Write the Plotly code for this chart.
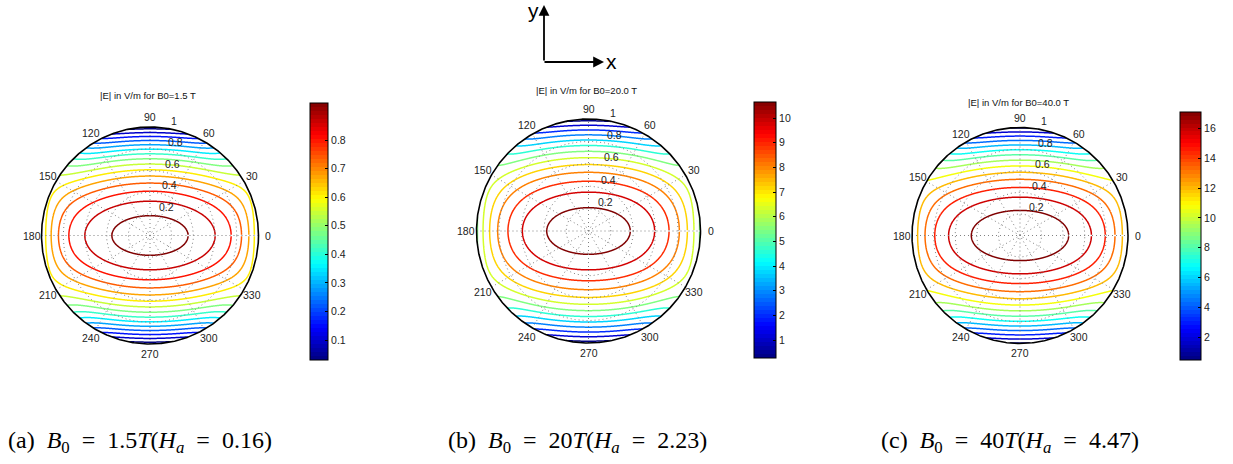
import numpy as np
import plotly.graph_objects as go

W, H = 1233, 464

# ---------------- data ----------------
panel_letters = ["a", "b", "c"]
B0_values = [1.5, 20.0, 40.0]            # Tesla
Ha_values = [0.16, 2.23, 4.47]           # Hartmann numbers
E_min = [0.03, 0.27, 0.46]               # colour-bar minimum (V/m)
E_max = [0.93, 10.65, 17.1]              # colour-bar maximum (V/m)
# contour levels (V/m): first, last, step
level_first = [0.06, 0.6, 0.6]
level_last = [0.90, 10.2, 16.2]
level_step = [0.06, 0.8, 1.2]
#   Ey = 1 - y^2 - c2 x^2 - cn |x|^n ,  Ex = cxy * x^3 * y
x2_coef = [0.27, 0.30, 0.26]
xn_coef = [0.16, 0.22, 0.15]
xn_power = [8, 5, 6]
xy_coef = [1.0, 1.0, 1.0]
cbar_ticks = [
    [0.1, 0.2, 0.3, 0.4, 0.5, 0.6, 0.7, 0.8],
    [1, 2, 3, 4, 5, 6, 7, 8, 9, 10],
    [2, 4, 6, 8, 10, 12, 14, 16],
]
angle_ticks = [0, 30, 60, 90, 120, 150, 180, 210, 240, 270, 300, 330]
radial_ticks = [0.2, 0.4, 0.6, 0.8, 1]
radial_labels = ["0.2", "0.4", "0.6", "0.8", "1"]
SP = "\u2002"
captions = [
    "(a)" + SP + "<i>B</i><sub>0</sub>" + SP + "=" + SP + "1.5<i>T</i>(<i>H<sub>a</sub></i>" + SP + "=" + SP + "0.16)",
    "(b)" + SP + "<i>B</i><sub>0</sub>" + SP + "=" + SP + "20<i>T</i>(<i>H<sub>a</sub></i>" + SP + "=" + SP + "2.23)",
    "(c)" + SP + "<i>B</i><sub>0</sub>" + SP + "=" + SP + "40<i>T</i>(<i>H<sub>a</sub></i>" + SP + "=" + SP + "4.47)",
]

# ---------------- layout geometry (pixels) ----------------
centers = [(150.0, 235.5), (588.5, 231.0), (1020.0, 235.5)]
radii = [108.5, 112.0, 108.0]
cbar_box = [(310, 18, 103, 360), (754, 22, 102, 358), (1180, 21, 112, 360)]  # left, width, top, bottom
title_y = [96, 90, 102]
caption_x = [6, 446, 879]
caption_y = 442
PAD = 1.3


def px(x, y):
    return x / W, 1 - y / H


def jet(t):
    t = np.clip(t, 0, 1)
    r = np.clip(1.5 - abs(4 * t - 3), 0, 1)
    g = np.clip(1.5 - abs(4 * t - 2), 0, 1)
    b = np.clip(1.5 - abs(4 * t - 1), 0, 1)
    return "rgb(%d,%d,%d)" % (round(r * 255), round(g * 255), round(b * 255))


jet_smooth = [[i / 64, jet(i / 64)] for i in range(65)]
jet_steps = []
for i in range(64):
    c = jet((i + 0.5) / 64)
    jet_steps.append([i / 64, c])
    jet_steps.append([(i + 1) / 64, c])

fig = go.Figure()
layout_axes = {}
annotations = []

grid = np.linspace(-1, 1, 501)
GX, GY = np.meshgrid(grid, grid)
inside = GX**2 + GY**2 <= 1.0
# polar-mesh seam along theta = 0 (contours do not join there)
seam = (GX > 0.02) & (np.abs(GY) < 0.007)

theta_c = np.linspace(0, 2 * np.pi, 721)
DOT = dict(color="#808080", width=1, dash="1px,3px")

for k in range(3):
    cx, cy = centers[k]
    R = radii[k]
    xa = "x" if k == 0 else "x%d" % (k + 1)
    ya = "y" if k == 0 else "y%d" % (k + 1)
    xkey = "xaxis" if k == 0 else "xaxis%d" % (k + 1)
    ykey = "yaxis" if k == 0 else "yaxis%d" % (k + 1)
    x0, _ = px(cx - PAD * R, 0)
    x1, _ = px(cx + PAD * R, 0)
    _, y0 = px(0, cy + PAD * R)
    _, y1 = px(0, cy - PAD * R)
    layout_axes[xkey] = dict(domain=[x0, x1], range=[-PAD, PAD], visible=False, fixedrange=True)
    layout_axes[ykey] = dict(domain=[y0, y1], range=[-PAD, PAD], visible=False, fixedrange=True)

    # polar grid: dotted circles and spokes
    for r in radial_ticks[:-1]:
        fig.add_trace(go.Scatter(x=r * np.cos(theta_c), y=r * np.sin(theta_c), mode="lines",
                                 line=DOT, xaxis=xa, yaxis=ya, hoverinfo="skip", showlegend=False))
    for a in angle_ticks[:6]:
        t = np.deg2rad(a)
        fig.add_trace(go.Scatter(x=[-np.cos(t), np.cos(t)], y=[-np.sin(t), np.sin(t)], mode="lines",
                                 line=DOT, xaxis=xa, yaxis=ya, hoverinfo="skip", showlegend=False))

    # field
    Ey = 1 - GY**2 - x2_coef[k] * GX**2 - xn_coef[k] * np.abs(GX) ** xn_power[k]
    Ex = xy_coef[k] * GX**3 * GY
    F = np.sqrt(Ex**2 + Ey**2)
    Z = E_min[k] + (E_max[k] - E_min[k]) * F
    Z = np.where(inside & ~seam, Z, np.nan)
    fig.add_trace(go.Contour(
        x=grid, y=grid, z=Z, xaxis=xa, yaxis=ya,
        contours=dict(coloring="lines", start=level_first[k], end=level_last[k] + 1e-9, size=level_step[k]),
        colorscale=jet_smooth, zmin=E_min[k], zmax=E_max[k], zauto=False,
        line=dict(width=1.5), showscale=False, hoverinfo="skip", connectgaps=False))

    # outer circle
    fig.add_trace(go.Scatter(x=np.cos(theta_c), y=np.sin(theta_c), mode="lines",
                             line=dict(color="black", width=1.6),
                             xaxis=xa, yaxis=ya, hoverinfo="skip", showlegend=False))

    # colorbar via dummy trace
    left, wdt, top, bot = cbar_box[k]
    cbx, _ = px(left, 0)
    _, cby = px(0, (top + bot) / 2)
    fig.add_trace(go.Scatter(
        x=[50], y=[50], mode="markers", xaxis=xa, yaxis=ya, showlegend=False, hoverinfo="skip",
        marker=dict(color=[E_min[k]], cmin=E_min[k], cmax=E_max[k], colorscale=jet_steps,
                    showscale=True, size=1,
                    colorbar=dict(x=cbx, xanchor="left", y=cby, yanchor="middle",
                                  len=bot - top, lenmode="pixels", thickness=wdt, thicknessmode="pixels",
                                  xpad=0, ypad=0, outlinecolor="black", outlinewidth=1,
                                  tickvals=cbar_ticks[k], ticks="inside", ticklen=3, tickcolor="black",
                                  tickfont=dict(family="Liberation Sans, Arial", size=10.5, color="#222")))))

    # angle labels
    for a in angle_ticks:
        t = np.deg2rad(a)
        annotations.append(dict(x=1.09 * np.cos(t), y=1.09 * np.sin(t), xref=xa, yref=ya, text=str(a),
                                showarrow=False, xanchor="center", yanchor="middle",
                                font=dict(family="Liberation Sans, Arial", size=10.5, color="#222")))
    # radial labels
    t82 = np.deg2rad(82)
    for r, lab in zip(radial_ticks, radial_labels):
        annotations.append(dict(x=(r + 0.01) * np.cos(t82), y=(r + 0.01) * np.sin(t82), xref=xa, yref=ya,
                                text=lab, showarrow=False, xanchor="left", yanchor="bottom", xshift=4,
                                yshift=-2,
                                font=dict(family="Liberation Sans, Arial", size=10.5, color="#222")))
    # title
    tx, ty = px(cx - 2, title_y[k])
    annotations.append(dict(x=tx, y=ty, xref="paper", yref="paper", showarrow=False,
                            text="|E| in V/m for B0=%.1f T" % B0_values[k], xanchor="center", yanchor="middle",
                            font=dict(family="Liberation Sans, Arial", size=9.5, color="#111")))
    # caption
    capx, capy = px(caption_x[k], caption_y)
    annotations.append(dict(x=capx, y=capy, xref="paper", yref="paper", showarrow=False,
                            text=captions[k], xanchor="left", yanchor="middle",
                            font=dict(family="Liberation Serif, DejaVu Serif, serif", size=24, color="black")))

# coordinate arrows (y up, x right)
hx, hy = px(544, 5)
annotations.append(dict(x=hx, y=hy, xref="paper", yref="paper", ax=0, ay=57, text="", showarrow=True,
                        arrowhead=2, arrowsize=1.2, arrowwidth=1.8, arrowcolor="black"))
hx, hy = px(604, 62)
annotations.append(dict(x=hx, y=hy, xref="paper", yref="paper", ax=-61, ay=0, text="", showarrow=True,
                        arrowhead=2, arrowsize=1.2, arrowwidth=1.8, arrowcolor="black"))
lx, ly = px(533, 11)
annotations.append(dict(x=lx, y=ly, xref="paper", yref="paper", text="y", showarrow=False,
                        xanchor="center", yanchor="middle",
                        font=dict(family="Liberation Sans, Arial", size=21, color="black")))
lx, ly = px(611, 62)
annotations.append(dict(x=lx, y=ly, xref="paper", yref="paper", text="x", showarrow=False,
                        xanchor="center", yanchor="middle",
                        font=dict(family="Liberation Sans, Arial", size=21, color="black")))

fig.update_layout(width=W, height=H, margin=dict(l=0, r=0, t=0, b=0),
                  paper_bgcolor="white", plot_bgcolor="white", showlegend=False,
                  annotations=annotations, **layout_axes)

fig.write_html("out.html", config={"displayModeBar": False})
